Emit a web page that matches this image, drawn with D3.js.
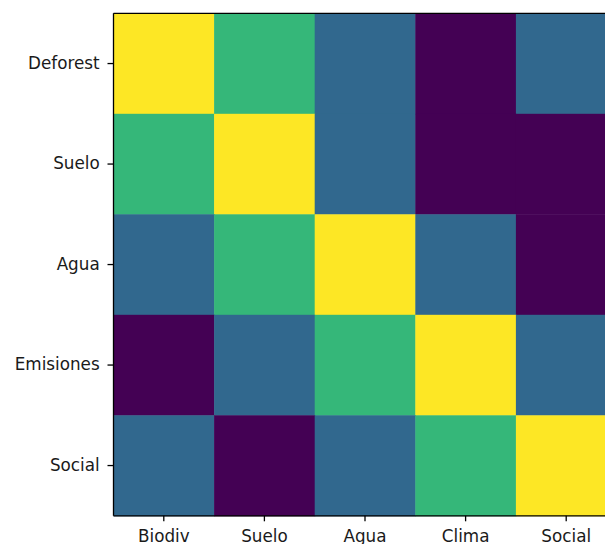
<!DOCTYPE html>
<html>
<head>
<meta charset="utf-8">
<script src="https://cdn.jsdelivr.net/npm/d3@7"></script>
<style>
  html, body { margin: 0; padding: 0; background: #fff; overflow: hidden; }
  svg { display: block; }
</style>
</head>
<body>
<svg id="chart" width="605" height="544"></svg>
<script>
// Row and column labels of the impact matrix
const rows = ["Deforest", "Suelo", "Agua", "Emisiones", "Social"];
const cols = ["Biodiv", "Suelo", "Agua", "Clima", "Social"];

// Relationship strength per row (0 = none, 3 = strongest)
const deforestVals  = [3, 2, 1, 0, 1];
const sueloVals     = [2, 3, 1, 0, 0];
const aguaVals      = [1, 2, 3, 1, 0];
const emisionesVals = [0, 1, 2, 3, 1];
const socialVals    = [1, 0, 1, 2, 3];
const matrix = [deforestVals, sueloVals, aguaVals, emisionesVals, socialVals];

const svg = d3.select("#chart");
const plotLeft = 113.5, plotTop = 13.3, cellW = 100.6, cellH = 100.5;

const x = d3.scaleBand().domain(cols).range([plotLeft, plotLeft + cellW * cols.length]);
const y = d3.scaleBand().domain(rows).range([plotTop, plotTop + cellH * rows.length]);
const color = d3.scaleSequential(d3.interpolateViridis).domain([0, 3]);

const cells = [];
matrix.forEach((r, i) => r.forEach((v, j) => cells.push({ row: rows[i], col: cols[j], v })));

svg.append("g").selectAll("rect").data(cells).join("rect")
  .attr("x", d => x(d.col))
  .attr("y", d => y(d.row))
  .attr("width", x.bandwidth() + 0.5)
  .attr("height", y.bandwidth() + 0.5)
  .attr("fill", d => color(d.v));

const font = "'DejaVu Sans', sans-serif";
const plotRight = plotLeft + cellW * cols.length;
const plotBottom = plotTop + cellH * rows.length;

const xAxis = svg.append("g")
  .attr("transform", `translate(0,${plotBottom})`)
  .call(d3.axisBottom(x).tickSize(5.5).tickPadding(8.5));
const yAxis = svg.append("g")
  .attr("transform", `translate(${plotLeft},0)`)
  .call(d3.axisLeft(y).tickSize(6).tickPadding(7.8));

[xAxis, yAxis].forEach(g => {
  g.selectAll(".domain").remove();
  g.selectAll(".tick line").attr("stroke", "#000").attr("stroke-width", 1.3);
  g.selectAll(".tick text").attr("fill", "#1a1a1a").style("font-family", font).style("font-size", "16.8px");
});

// Frame around the image area
const frame = svg.append("g").attr("fill", "none").attr("stroke", "#000").attr("stroke-width", 1.3);
frame.append("line").attr("x1", plotLeft).attr("x2", plotLeft).attr("y1", plotTop).attr("y2", plotBottom);
frame.append("line").attr("x1", plotLeft).attr("x2", plotRight).attr("y1", plotTop).attr("y2", plotTop);
frame.append("line").attr("x1", plotLeft).attr("x2", plotRight).attr("y1", plotBottom).attr("y2", plotBottom);
frame.append("line").attr("x1", plotRight).attr("x2", plotRight).attr("y1", plotTop).attr("y2", plotBottom);
</script>
</body>
</html>
